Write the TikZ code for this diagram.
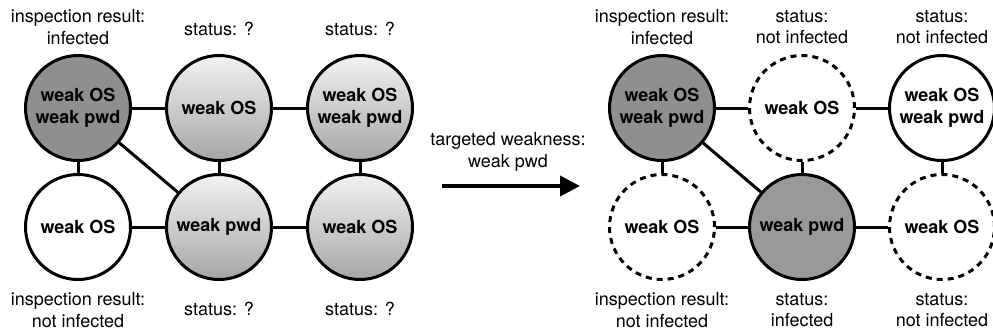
\documentclass[tikz,border=0pt]{standalone}
\usepackage{fontspec}
\setmainfont{TeX Gyre Heros}
\usetikzlibrary{arrows.meta,positioning}
\newcommand{\hostfont}{\fontsize{18}{21.5}\selectfont}
\tikzset{%
  >={Triangle[width=20pt,length=20pt]},
  % Specifications for style of nodes:
        host/.style = {circle, draw=black, line width=3pt,
                       minimum size=105pt, inner sep=0pt,
                       align=center, font=\bfseries\hostfont},
     unknown/.style = {host, top color=black!5, bottom color=black!35},
    infected/.style = {host, fill=black!44},
   infectedB/.style = {host, fill=black!40},
       clean/.style = {host, fill=white},
     cleared/.style = {host, fill=white, dash pattern=on 6pt off 5pt},
     caption/.style = {align=center, font=\hostfont},
        link/.style = {line width=3pt},
}

\begin{document}
\begin{tikzpicture}[x=1pt, y=-1pt]
\useasboundingbox (0,0) rectangle (993,333);

% before the inspection
\node (LA)     [infected]  at (78,108)   {weak OS\\weak pwd};
\node (LB)     [unknown]   at (219,108)  {weak OS};
\node (LC)     [unknown]   at (360,108)  {weak OS\\weak pwd};
\node (LD)     [clean]     at (78,227)   {weak OS};
\node (LE)     [unknown]   at (219,227)  {weak pwd};
\node (LF)     [unknown]   at (360,227)  {weak OS};

\node (LAcap)  [caption]   at (78,27)    {inspection result:\\infected};
\node (LBcap)  [caption]   at (219,29)   {status: ?};
\node (LCcap)  [caption]   at (360,29)   {status: ?};
\node (LDcap)  [caption]   at (78,310)   {inspection result:\\not infected};
\node (LEcap)  [caption]   at (219,309)  {status: ?};
\node (LFcap)  [caption]   at (360,309)  {status: ?};

\draw[link]   (LA) -- (LB);
\draw[link]   (LB) -- (LC);
\draw[link]   (LA) -- (LD);
\draw[link]   (LB) -- (LE);
\draw[link]   (LC) -- (LF);
\draw[link]   (LD) -- (LE);
\draw[link]   (LE) -- (LF);
\draw[link]   (LA) -- (LE);

% targeted weakness
\coordinate (go)   at (442,186);
\coordinate (stop) at (580,186);
\node (weakness) [caption] at (508,152) {targeted weakness:\\weak pwd};
\draw[->, line width=4pt]   (go) -- (stop);

% after the inspection
\node (RA)     [infected]  at (662,108)  {weak OS\\weak pwd};
\node (RB)     [cleared]   at (802,108)  {weak OS};
\node (RC)     [clean]     at (942,108)  {weak OS\\weak pwd};
\node (RD)     [cleared]   at (662,227)  {weak OS};
\node (RE)     [infectedB] at (802,227)  {weak pwd};
\node (RF)     [cleared]   at (942,227)  {weak OS};

\node (RAcap)  [caption]   at (662,27)   {inspection result:\\infected};
\node (RBcap)  [caption]   at (802,27)   {status:\\not infected};
\node (RCcap)  [caption]   at (942,27)   {status:\\not infected};
\node (RDcap)  [caption]   at (662,310)  {inspection result:\\not infected};
\node (REcap)  [caption]   at (802,310)  {status:\\infected};
\node (RFcap)  [caption]   at (942,310)  {status:\\not infected};

\draw[link]   (RA) -- (RB);
\draw[link]   (RB) -- (RC);
\draw[link]   (RA) -- (RD);
\draw[link]   (RB) -- (RE);
\draw[link]   (RC) -- (RF);
\draw[link]   (RD) -- (RE);
\draw[link]   (RE) -- (RF);
\draw[link]   (RA) -- (RE);
\end{tikzpicture}
\end{document}
